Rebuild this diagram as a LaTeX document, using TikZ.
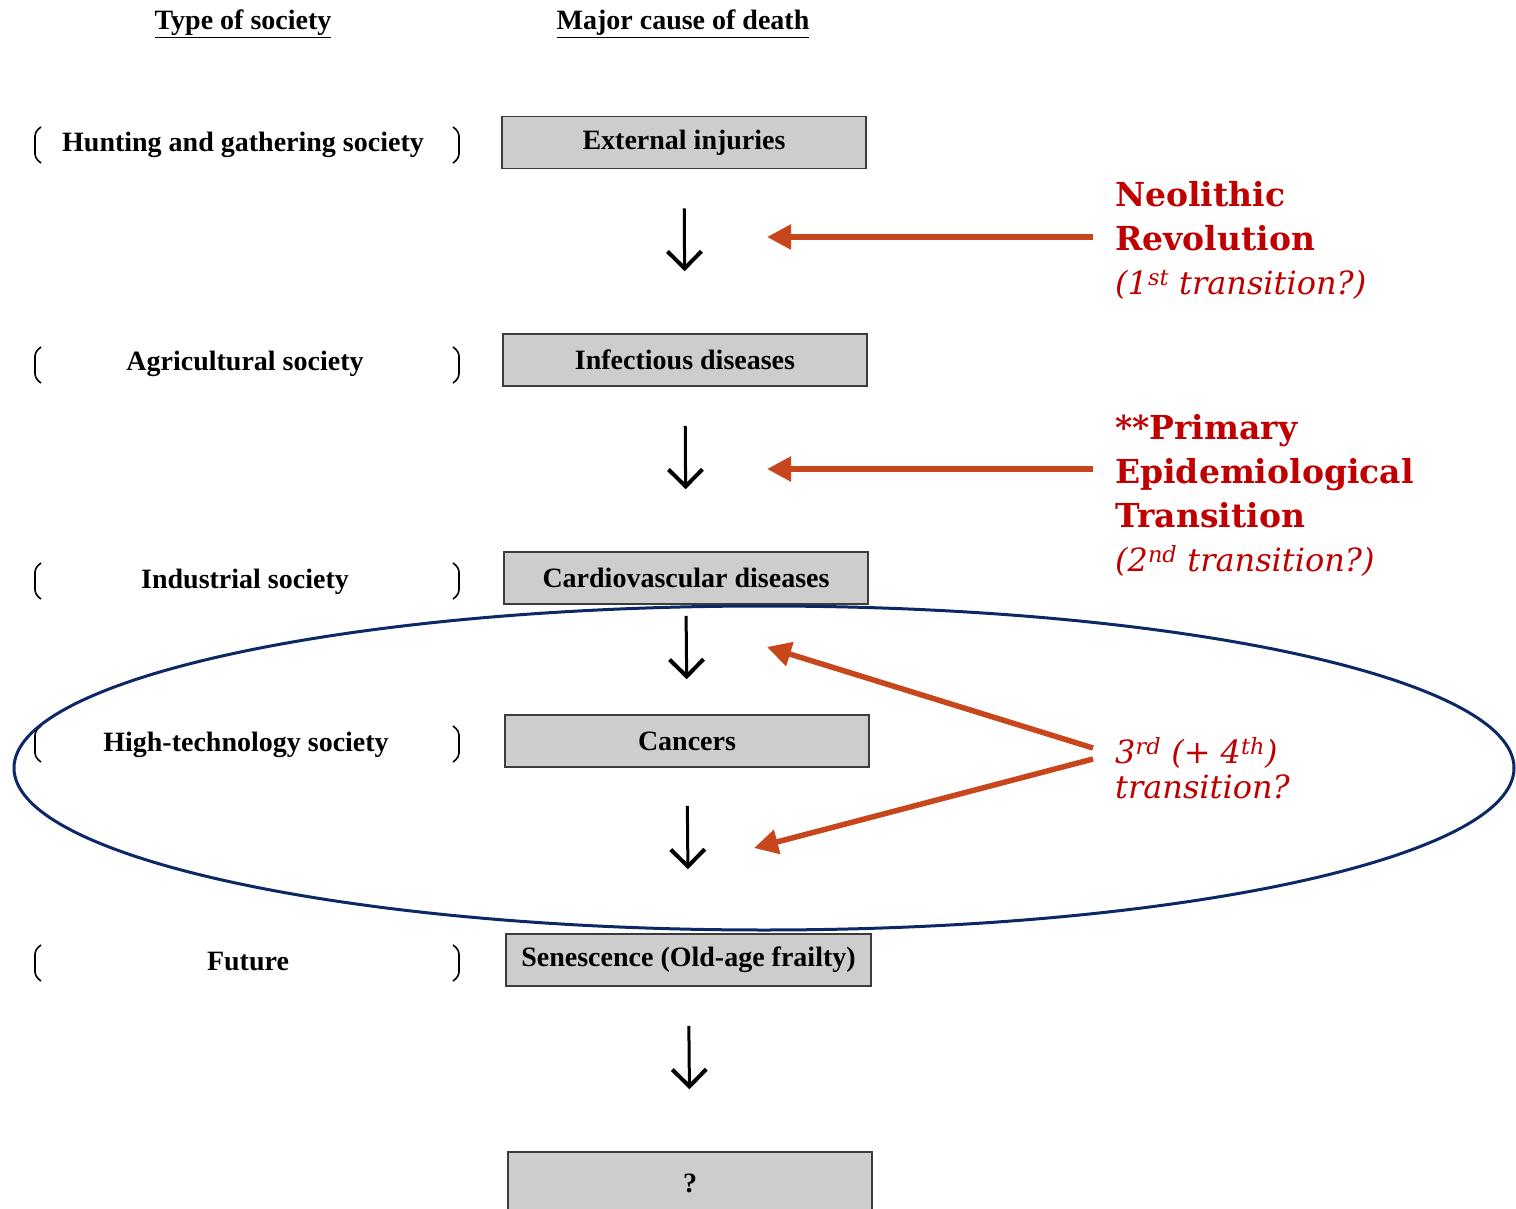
\documentclass[tikz,border=0pt]{standalone}
\usepackage{fontspec}
\setmainfont{Liberation Serif}
\newfontfamily\slabfont{DejaVu Serif}
\usetikzlibrary{arrows.meta,positioning}

\definecolor{boxgray}{HTML}{CDCDCD}
\definecolor{boxline}{HTML}{3C3C3C}
\definecolor{transred}{HTML}{C00000}
\definecolor{arrowred}{HTML}{C8461C}
\definecolor{ovalblue}{HTML}{0C2866}

\tikzset{
	cause/.style={draw=boxline, line width=1.6pt, fill=boxgray, minimum width=364pt, minimum height=52pt, inner sep=0pt, font=\fontsize{28}{32}\selectfont\bfseries},
	society/.style={inner sep=0pt, anchor=base, font=\fontsize{28}{32}\selectfont\bfseries},
	heading/.style={inner sep=0pt, anchor=base, font=\fontsize{28}{32}\selectfont\bfseries},
	downarrow/.style={line width=3pt, arrows={-Straight Barb[length=17pt,width=34pt,line width=4pt]}},
	redarrow/.style={draw=arrowred, line width=5.5pt, arrows={-Triangle[length=24pt,width=24pt]}},
	transtext/.style={transred, inner sep=0pt, anchor=north west, align=left, font=\slabfont\fontsize{32}{44}\selectfont},
	bracket/.style={line width=1.6pt, rounded corners=4pt}
}

\begin{document}
\begin{tikzpicture}[x=1pt, y=-1pt]
	\useasboundingbox (0,0) rectangle (1516,1209);

	\node [heading] (hsoc) at (243,30) {\underline{Type of society}};
	\node [heading] (hcause) at (683,30) {\underline{Major cause of death}};

	\node [society] (hunt) at (243,152) {Hunting and gathering society};
	\node [society] (agri) at (245,370) {Agricultural society};
	\node [society] (indu) at (245,588) {Industrial society};
	\node [society] (high) at (246,751) {High-technology society};
	\node [society] (futu) at (248,970) {Future};
	\foreach \y in {145,365,581,744,963}
		\draw [bracket] (41,\y-18) -- (35,\y-13) -- (35,\y+13) -- (41,\y+18)
						(453,\y-18) -- (459,\y-13) -- (459,\y+13) -- (453,\y+18);

	\node [cause] (ext) at (684,142.5) {External injuries};
	\node [cause] (inf) at (685,360) {Infectious diseases};
	\node [cause] (card) at (686,578) {Cardiovascular diseases};
	\node [cause] (canc) at (687,741) {Cancers};
	\node [cause, minimum width=365pt] (sen) at (688.5,960) {Senescence (Old-age frailty)};
	\node [cause, minimum height=62pt] (unk) at (690,1183) {?};

	\foreach \a/\b/\s/\t in {ext/inf/39/62, inf/card/39/62, card/canc/11/35, canc/sen/38/64, sen/unk/39/62}
		\draw [downarrow, shorten <=\s pt, shorten >=\t pt] (\a.south) -- (\b.north);

	\draw [ovalblue, line width=3pt] (764,768) ellipse [x radius=750, y radius=162];

	\node [transtext] (neo) at (1115,181) {\fontsize{33}{44}\selectfont\bfseries Neolithic\\\fontsize{33}{44}\selectfont\bfseries Revolution\\\itshape (1\textsuperscript{st} transition?)};
	\node [transtext] (epi) at (1115,414) {\fontsize{33}{44}\selectfont\bfseries **Primary\\\fontsize{33}{44}\selectfont\bfseries Epidemiological\\\fontsize{33}{44}\selectfont\bfseries Transition\\\itshape (2\textsuperscript{nd} transition?)};
	\node [transtext, font=\slabfont\fontsize{32}{35}\selectfont\itshape] (third) at (1115,737) {3\textsuperscript{rd} (+ 4\textsuperscript{th})\\transition?};

	\coordinate (tneo) at (767,237);
	\coordinate (tepi) at (767,469);
	\coordinate (tup) at (767,647);
	\coordinate (tdown) at (754,848);
	\coordinate (sup) at (1093,748);
	\coordinate (sdown) at (1093,759);
	\draw [redarrow] ([xshift=-22pt]tneo -| neo.west) -- (tneo);
	\draw [redarrow] ([xshift=-22pt]tepi -| epi.west) -- (tepi);
	\draw [redarrow] (sup -| third.west) ++(-22pt,0) -- (tup);
	\draw [redarrow] (sdown -| third.west) ++(-22pt,0) -- (tdown);
\end{tikzpicture}
\end{document}
